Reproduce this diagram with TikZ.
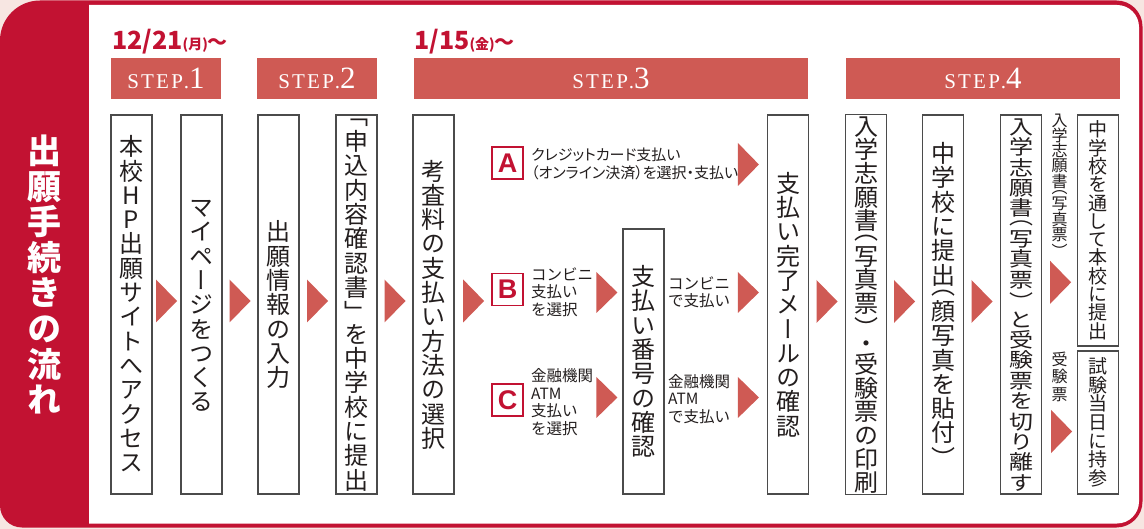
\documentclass[tikz,border=0pt]{standalone}
\usepackage{fontspec}
\usepackage{graphicx}
\usetikzlibrary{calc}
\setmainfont{Noto Sans CJK JP}
\newfontfamily\jp{Noto Sans CJK JP}
\newfontfamily\jpp[RawFeature=+palt]{Noto Sans CJK JP}
\newfontfamily\tate[RawFeature=+vert]{Noto Sans CJK JP}
\newfontfamily\stepfont{Liberation Serif}
\newfontfamily\abcfont{Liberation Sans}

\definecolor{crim}{RGB}{194,18,50}
\definecolor{salmon}{RGB}{207,90,84}
\definecolor{bgpink}{RGB}{247,230,226}
\definecolor{ink}{RGB}{35,30,30}
\definecolor{boxline}{RGB}{75,75,75}

\makeatletter
\newdimen\vt@p
\newcommand\vtext[3]{\vbox{\offinterlineskip\fontsize{#1}{#1}\tate\vt@p=#2pt\relax\vt@loop#3\vt@end}}
\def\vt@end{\vt@end@}
\def\vt@loop#1{\ifx#1\vt@end\else\vt@cell#1\expandafter\vt@loop\fi}
\def\vt@cell#1{%
  \ifx#1（\vt@half{#1}{.055}\else
  \ifx#1「\vt@half{#1}{.072}\else
  \ifx#1）\vt@half{#1}{.705}\else
  \ifx#1」\vt@half{#1}{.688}\else
  \ifx#1・\vt@half{#1}{.38}\else
  \vt@full{#1}\fi\fi\fi\fi\fi}
\def\vt@full#1{\setbox\z@\hbox{#1}\ht\z@\z@\dp\z@\z@
  \hbox to 1.1em{\hss\vrule height .88\vt@p depth .12\vt@p width\z@\box\z@\hss}}
\def\vt@half#1#2{\setbox\z@\hbox{#1}\ht\z@\z@\dp\z@\z@
  \dimen@=.25\vt@p \advance\dimen@ -#2em
  \hbox to 1.1em{\hss\vrule height .5\vt@p depth\z@ width\z@\raise\dimen@\box\z@\hss}}
\makeatother

\newcommand\steplbl[1]{{\stepfont\fontsize{21}{21}\selectfont S\kern2.2pt T\kern2.2pt E\kern2.2pt P\kern1pt.}{\stepfont\fontsize{31}{31}\selectfont #1}}
\newcommand\arr[2][43]{\fill[arrowfill] ($(#2)+(-10.5,-#1/2)$) -- ++(21,#1/2) -- ++(-21,#1/2) -- cycle;}

\begin{document}
\begin{tikzpicture}[x=1pt,y=-1pt,
  flowbox/.style={draw=boxline, line width=1.2pt, fill=white, minimum width=41pt, inner sep=0pt, text=ink},
  stepbox/.style={fill=salmon, minimum height=41pt, inner sep=0pt, text=white},
  abcbox/.style={draw=crim, line width=1.4pt, fill=white, minimum width=31pt, minimum height=32pt, inner sep=0pt, text=crim, font=\abcfont\bfseries\fontsize{27}{27}\selectfont},
  small/.style={font=\jp\fontsize{15.5}{17.7}\selectfont, text=ink, align=left, inner sep=0pt, anchor=west},
  arrowfill/.style={fill=salmon},
  datetext/.style={text=crim, anchor=base west, inner sep=0pt}
]
\useasboundingbox (0,0) rectangle (1144,529);
\fill[bgpink] (0,0) rectangle (1144,529);
% outer frame
\fill[crim] (0,264) [rounded corners=40] -- (0,0.5) -- (500,0.5) [rounded corners=26] -- (1142.5,0.5) -- (1142.5,527.5) -- (500,527.5) [rounded corners=22] -- (0,527.5) -- cycle;
\fill[white] (89,264) [sharp corners] -- (89,5) -- (500,5) [rounded corners=22] -- (1139,5) -- (1139,523.5) -- (500,523.5) [sharp corners] -- (89,523.5) -- cycle;

% title
\node[text=white, inner sep=0pt] (title) at (44,274.5) {\bfseries\vtext{34}{35.6}{出願手続きの流れ}};

% dates
\node[datetext] (d1) at (112,50) {{\jp\bfseries\fontsize{25}{25}\selectfont 12/21}{\jp\bfseries\fontsize{14}{14}\selectfont (月)}{\jp\bfseries\fontsize{20}{20}\selectfont ～}};
\node[datetext] (d2) at (414,50) {{\jp\bfseries\fontsize{25}{25}\selectfont 1/15}{\jp\bfseries\fontsize{14}{14}\selectfont (金)}{\jp\bfseries\fontsize{20}{20}\selectfont ～}};

% step headers
\node[stepbox, minimum width=110pt] (s1) at (166,78.5) {\steplbl{1}};
\node[stepbox, minimum width=120pt] (s2) at (317,78.5) {\steplbl{2}};
\node[stepbox, minimum width=394pt] (s3) at (611,78.5) {\steplbl{3}};
\node[stepbox, minimum width=274pt] (s4) at (983,78.5) {\steplbl{4}};

% main boxes
\node[flowbox, minimum height=379pt] (b1) at (131.5,304.5) {\vtext{24}{24.3}{本校HP出願サイトへアクセス}};
\node[flowbox, minimum height=379pt] (b2) at (201.5,304.5) {\vtext{24}{24.3}{マイページをつくる}};
\node[flowbox, minimum height=379pt] (b3) at (278.5,304.5) {\vtext{24}{24.3}{出願情報の入力}};
\node[flowbox, minimum height=379pt] (b4) at (356.5,304.5) {\vtext{24}{24.3}{「申込内容確認書」を中学校に提出}};
\node[flowbox, minimum height=379pt] (b5) at (433.5,304.5) {\vtext{24}{24.3}{考査料の支払い方法の選択}};
\node[flowbox, minimum height=265pt] (bn) at (643.5,361.5) {\vtext{24}{24.3}{支払い番号の確認}};
\node[flowbox, minimum height=379pt] (b6) at (788,304.5) {\vtext{24}{24.3}{支払い完了メールの確認}};
\node[flowbox, minimum height=379pt] (b7) at (866,304.5) {\vtext{24}{23.6}{入学志願書（写真票）・受験票の印刷}};
\node[flowbox, minimum height=379pt] (b8) at (943,304.5) {\vtext{24}{24.3}{中学校に提出（顔写真を貼付）}};
\node[flowbox, minimum height=379pt] (b9) at (1021,304.5) {\scalebox{1}[.84]{\vtext{24}{24.3}{入学志願書（写真票）と受験票を切り離す}}};
\node[flowbox, minimum height=231pt] (b10) at (1098,230.5) {\vtext{19}{18.3}{中学校を通して本校に提出}};
\node[flowbox, minimum height=143pt] (b11) at (1098,422.5) {\vtext{19}{18.6}{試験当日に持参}};

% A B C labels
\node[abcbox] (la) at (507.5,163) {A};
\node[abcbox] (lb) at (507.5,289.5) {B};
\node[abcbox] (lc) at (507.5,400) {C};

\node[small, font=\jpp\fontsize{15}{18}\selectfont] (ta) at (531,164) {クレジットカード支払い\\（オンライン決済）を選択・支払い};
\node[small] (tb) at (531,292) {コンビニ\\支払い\\を選択};
\node[small] (tc) at (531,402) {金融機関\\ATM\\支払い\\を選択};
\node[small, font=\jp\fontsize{15.5}{17.5}\selectfont] (tb2) at (668,292.5) {コンビニ\\で支払い};
\node[small, font=\jp\fontsize{15.5}{17.5}\selectfont] (tc2) at (668,399) {金融機関\\ATM\\で支払い};

% small vertical labels
\node[text=ink, inner sep=0pt] (sv1) at (1059.5,185) {\vtext{16}{15.2}{入学志願書（写真票）}};
\node[text=ink, inner sep=0pt] (sv2) at (1059.5,376) {\vtext{16}{17.5}{受験票}};

% arrows
\coordinate (m1) at ($(b1.east)!.5!(b2.west)+(0,-3.5)$);
\coordinate (m2) at ($(b2.east)!.5!(b3.west)+(0,-3.5)$);
\coordinate (m3) at ($(b3.east)!.5!(b4.west)+(0,-3.5)$);
\coordinate (m4) at ($(b4.east)!.5!(b5.west)+(0,-3.5)$);
\coordinate (m5) at ($(b5.east)+(19,-3.5)$);
\coordinate (ma) at ($(b6.west |- la)+(-18.5,1.5)$);
\coordinate (mb1) at ($(bn.west |- lb)+(-15.5,3)$);
\coordinate (mc1) at ($(bn.west |- lc)+(-15.5,-2.5)$);
\coordinate (mb2) at ($(b6.west |- lb)+(-18.5,3)$);
\coordinate (mc2) at ($(b6.west |- lc)+(-18.5,-2.5)$);
\coordinate (m6) at ($(b6.east)!.5!(b7.west)+(0,-3)$);
\coordinate (m7) at ($(b7.east)!.5!(b8.west)+(0,-3)$);
\coordinate (m8) at ($(b8.east)!.5!(b9.west)+(0,-3)$);
\coordinate (m9) at ($(b9.east |- sv1.south)+(18.5,25)$);
\coordinate (m10) at ($(b9.east |- b11.center)+(19.5,9)$);
\arr{m1}\arr{m2}\arr{m3}\arr{m4}\arr{m5}
\arr{ma}\arr[41]{mb1}\arr[41]{mc1}\arr[41]{mb2}\arr[41]{mc2}
\arr{m6}\arr{m7}\arr{m8}\arr{m9}\arr{m10}
\end{tikzpicture}
\end{document}
